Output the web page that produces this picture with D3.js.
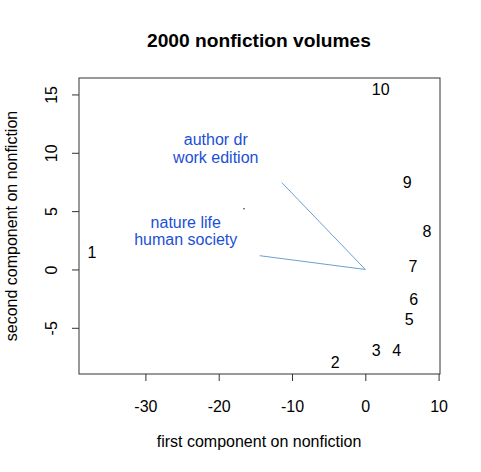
<!DOCTYPE html>
<html>
<head>
<meta charset="utf-8">
<script src="https://cdn.jsdelivr.net/npm/d3@7"></script>
<style>
  body { margin: 0; background: #fff; }
  svg { display: block; font-family: "Liberation Sans", Arial, Helvetica, sans-serif; }
</style>
</head>
<body>
<script>
// ---- data ----
const docLabels = ["1", "2", "3", "4", "5", "6", "7", "8", "9", "10"];
const pc1 = [-37.3, -4.1, 1.5, 4.3, 6.0, 6.6, 6.5, 8.4, 5.7, 2.1];
const pc2 = [1.45, -8.0, -6.9, -6.9, -4.3, -2.6, 0.3, 3.3, 7.45, 15.4];

const termGroups = [["author dr", "work edition"], ["nature life", "human society"]];
const loadX = [-11.4, -14.4];
const loadY = [7.45, 1.18];
const termLabelX = [-20.4, -24.5];
const termLabelY = [10.35, 3.3];

const dotX = [-16.55];
const dotY = [5.2];

const xTicks = [-30, -20, -10, 0, 10];
const yTicks = [-5, 0, 5, 10, 15];
const xDomain = [-39.06, 10.19];
const yDomain = [-8.96, 16.41];

const titleText = "2000 nonfiction volumes";
const xLabel = "first component on nonfiction";
const yLabel = "second component on nonfiction";

// ---- layout ----
const W = 481, H = 472;
const pL = 79, pR = 440, pT = 78, pB = 374;
const FS = 16;

const svg = d3.select("body").append("svg").attr("width", W).attr("height", H);

const x = d3.scaleLinear().domain(xDomain).range([pL, pR]);
const y = d3.scaleLinear().domain(yDomain).range([pB, pT]);

// title
svg.append("text").attr("x", 259).attr("y", 47)
  .attr("text-anchor", "middle").attr("font-size", 19.2).attr("font-weight", "bold")
  .text(titleText);

// axes
const xAxis = svg.append("g").attr("transform", `translate(0,${pB})`)
  .call(d3.axisBottom(x).tickValues(xTicks).tickSize(7).tickSizeOuter(0));
xAxis.select(".domain").remove();
xAxis.selectAll(".tick line").attr("stroke", "#333");
xAxis.selectAll(".tick text").attr("font-size", FS).attr("fill", "#000")
  .attr("y", 37.5).attr("dy", 0).attr("font-family", "Liberation Sans, Arial, sans-serif")
  .text(d => d < 0 ? "-" + Math.abs(d) : d);

const yAxis = svg.append("g").attr("transform", `translate(${pL},0)`)
  .call(d3.axisLeft(y).tickValues(yTicks).tickSize(7).tickSizeOuter(0));
yAxis.select(".domain").remove();
yAxis.selectAll(".tick line").attr("stroke", "#333");
yAxis.selectAll(".tick text")
  .attr("font-size", FS).attr("fill", "#000").attr("font-family", "Liberation Sans, Arial, sans-serif")
  .attr("x", null).attr("dy", null).attr("y", null)
  .attr("text-anchor", "middle")
  .attr("transform", "translate(-22.3,0) rotate(-90)")
  .text(d => d < 0 ? "-" + Math.abs(d) : d);

// box
svg.append("rect").attr("x", pL).attr("y", pT)
  .attr("width", pR - pL).attr("height", pB - pT)
  .attr("fill", "none").attr("stroke", "#333").attr("stroke-width", 1);

// axis labels
svg.append("text").attr("x", 259).attr("y", 446.5)
  .attr("text-anchor", "middle").attr("font-size", FS).text(xLabel);
svg.append("text").attr("transform", `translate(17,${(pT + pB) / 2}) rotate(-90)`)
  .attr("text-anchor", "middle").attr("font-size", FS).text(yLabel);

// loading lines
const loads = loadX.map((v, i) => ({ x: v, y: loadY[i] }));
svg.append("g").selectAll("line").data(loads).join("line")
  .attr("x1", x(0)).attr("y1", y(0))
  .attr("x2", d => x(d.x)).attr("y2", d => y(d.y))
  .attr("stroke", "#6a9fd6").attr("stroke-width", 1);

// term labels
const terms = termGroups.map((g, i) => ({ lines: g, x: termLabelX[i], y: termLabelY[i] }));
const tg = svg.append("g").attr("fill", "#1c4fd6").attr("font-size", FS).attr("text-anchor", "middle");
terms.forEach(t => {
  const tx = tg.append("text").attr("x", x(t.x)).attr("y", y(t.y));
  t.lines.forEach((ln, j) => {
    tx.append("tspan").attr("x", x(t.x))
      .attr("y", y(t.y) + (j - (t.lines.length - 1) / 2) * 17.8)
      .attr("dy", "0.35em").text(ln);
  });
});

// small dot
svg.append("g").selectAll("circle").data(dotX.map((v, i) => ({ x: v, y: dotY[i] }))).join("circle")
  .attr("cx", d => x(d.x)).attr("cy", d => y(d.y)).attr("r", 0.8).attr("fill", "#223366");

// document labels
const docs = docLabels.map((l, i) => ({ l, x: pc1[i], y: pc2[i] }));
svg.append("g").selectAll("text").data(docs).join("text")
  .attr("x", d => x(d.x)).attr("y", d => y(d.y)).attr("dy", "0.35em")
  .attr("text-anchor", "middle").attr("font-size", FS).attr("fill", "#000")
  .text(d => d.l);
</script>
</body>
</html>
